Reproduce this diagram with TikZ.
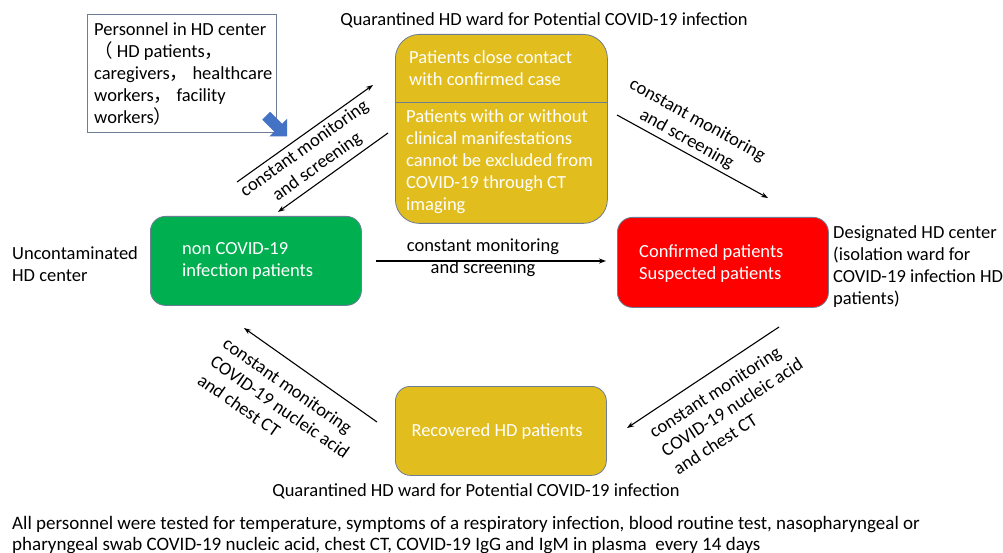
\documentclass[tikz,border=0pt]{standalone}
\usepackage{fontspec}
\setmainfont{Carlito}
\newfontfamily\cjk{Noto Sans CJK SC}
\usetikzlibrary{arrows.meta}
\definecolor{goldbox}{RGB}{226,189,30}
\definecolor{greenbox}{RGB}{0,176,80}
\definecolor{redbox}{RGB}{255,0,0}
\definecolor{boxline}{RGB}{110,125,150}
\definecolor{arrowblue}{RGB}{68,114,196}
\begin{document}
\begin{tikzpicture}[x=1pt,y=-1pt,
  every node/.style={font=\fontsize{18.5}{22}\selectfont, inner sep=0pt},
  cbox/.style={draw=boxline, line width=0.8pt, rounded corners=#1},
  wtext/.style={text=white, align=left, anchor=west},
  btext/.style={text=black, align=left, anchor=west},
  flow/.style={draw=black, line width=1.1pt, -{Stealth[length=7pt,width=5pt]}},
  flowlabel/.style={align=center},
  flowlabelL/.style={align=left}]
\useasboundingbox (0,0) rectangle (1003,553);
\fill[white] (0,0) rectangle (1003,553);

% personnel box
\node[draw=boxline, line width=0.8pt, minimum width=189pt, minimum height=118pt, anchor=north west] (pers) at (87,14) {};
\node[btext] (perstext) at (94,74) {Personnel in HD center\\{\cjk （} HD patients{\cjk ，}\\caregivers{\cjk ，} healthcare\\workers{\cjk ，} facility\\workers{\cjk ）}};
\fill[arrowblue] (270.1,111.8) -- (282.1,123.8) -- (287,118.9) -- (287,136.5) -- (269.4,136.5) -- (274.3,131.6) -- (262.3,119.6) -- cycle;

% titles
\node (toptitle) at (544,20) {Quarantined HD ward for Potential COVID-19 infection};
\node (bottitle) at (476,491) {Quarantined HD ward for Potential COVID-19 infection};

% top gold box
\node[cbox=24pt, fill=goldbox, minimum width=212pt, minimum height=189pt, anchor=north west] (top) at (395,34) {};
\draw[boxline, line width=0.8pt] (top.west |- 0,102) -- (top.east |- 0,102);
\node[wtext] (toptext1) at (409,68) {Patients close contact\\with confirmed case};
\node[wtext] (toptext2) at (406,162) {Patients with or without\\clinical manifestations\\cannot be excluded from\\COVID-19 through CT\\imaging};

% green box
\node[cbox=15pt, fill=greenbox, minimum width=211pt, minimum height=89pt, anchor=north west] (green) at (150,216) {};
\node[wtext] (greentext) at (182,261) {non COVID-19\\infection patients};
\node[btext] (leftlabel) at (12,264) {Uncontaminated\\HD center};

% red box
\node[cbox=15pt, fill=redbox, minimum width=211pt, minimum height=90pt, anchor=north west] (red) at (617,217) {};
\node[wtext] (redtext) at (639,264) {Confirmed patients\\Suspected patients};
\node[btext] (rightlabel) at (833,267) {Designated HD center\\(isolation ward for\\COVID-19 infection HD\\patients)};

% recovered box
\node[cbox=15pt, fill=goldbox, minimum width=211pt, minimum height=89pt, anchor=north west] (rec) at (395,386) {};
\node[text=white] (rectext) at (497,432) {Recovered HD patients};

% arrow end points
\coordinate (a1s) at (237,182); \coordinate (a1e) at (373,85);
\coordinate (a2s) at (388,133); \coordinate (a2e) at (278,212);
\coordinate (a3s) at (617,115); \coordinate (a3e) at (768,198);
\coordinate (a4s) at (376,261); \coordinate (a4e) at (606,261);
\coordinate (a5s) at (779,327); \coordinate (a5e) at (627,428);
\coordinate (a6s) at (377,422); \coordinate (a6e) at (244,328);

\draw[flow] (a1s) -- (a1e);
\draw[flow] (a2s) -- (a2e);
\draw[flow] (a3s) -- (a3e);
\draw[flow] (a4s) -- (a4e);
\draw[flow] (a5s) -- (a5e);
\draw[flow] (a6s) -- (a6e);

\node[flowlabel, rotate=35.5] (l1) at (311,158) {constant monitoring\\and screening};
\node[flowlabel, rotate=-29] (l3) at (692,130) {constant monitoring\\and screening};
\node[flowlabel] (l4) at (483,258) {constant monitoring\\and screening};
\node[flowlabelL, rotate=33] (l5) at (732,407) {constant monitoring\\COVID-19 nucleic acid\\and chest CT};
\node[flowlabelL, rotate=-35] (l6) at (280,407) {constant monitoring\\COVID-19 nucleic acid\\and chest CT};

% footnote
\node[btext, font=\fontsize{19}{21}\selectfont] (foot) at (12,535) {All personnel were tested for temperature, symptoms of a respiratory infection, blood routine test, nasopharyngeal or\\pharyngeal swab COVID-19 nucleic acid, chest CT, COVID-19 IgG and IgM in plasma\ \ every 14 days};
\end{tikzpicture}
\end{document}
